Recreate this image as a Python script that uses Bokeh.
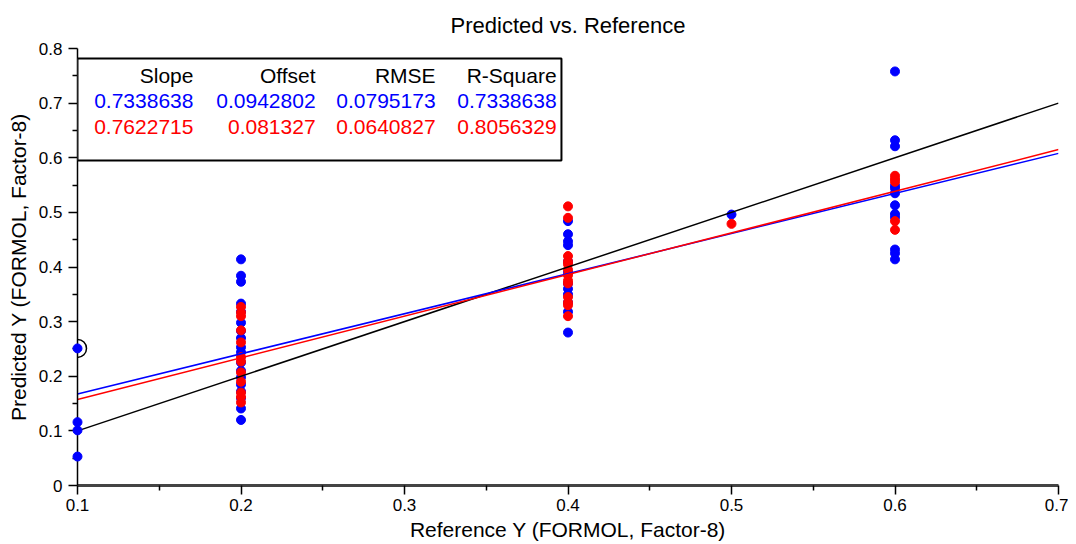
import math
from bokeh.plotting import figure
from bokeh.models import FixedTicker, CustomJSTickFormatter, BoxAnnotation, Label, Range1d
from bokeh.embed import file_html
from bokeh.resources import INLINE

# ---- data ----
ref_levels = [0.1, 0.2, 0.4, 0.5, 0.6]
blue_pred = {
    0.1: [0.251, 0.116, 0.101, 0.053],
    0.2: [0.414, 0.384, 0.373, 0.333, 0.318, 0.298, 0.283, 0.270, 0.253, 0.244,
          0.225, 0.210, 0.198, 0.185, 0.172, 0.160, 0.141, 0.120],
    0.4: [0.484, 0.460, 0.447, 0.440, 0.410, 0.390, 0.370, 0.360, 0.350, 0.335,
          0.318, 0.280],
    0.5: [0.496],
    0.6: [0.758, 0.632, 0.621, 0.549, 0.544, 0.535, 0.513, 0.497, 0.491, 0.432,
          0.425, 0.414],
}
red_pred = {
    0.1: [],
    0.2: [0.327, 0.317, 0.310, 0.284, 0.262, 0.235, 0.227, 0.207, 0.190, 0.170,
          0.162, 0.152],
    0.4: [0.511, 0.490, 0.420, 0.410, 0.405, 0.395, 0.385, 0.375, 0.370, 0.345,
          0.335, 0.330, 0.310],
    0.5: [0.479],
    0.6: [0.567, 0.561, 0.556, 0.484, 0.468],
}
stat_headers = ["Slope", "Offset", "RMSE", "R-Square"]
blue_stats = ["0.7338638", "0.0942802", "0.0795173", "0.7338638"]
red_stats = ["0.7622715", "0.081327", "0.0640827", "0.8056329"]
blue_slope, blue_offset = 0.7338638, 0.0942802
red_slope, red_offset = 0.7622715, 0.081327
marked_point = (0.1, 0.251)
title_text = "Predicted vs. Reference"

x_ticks = [0.1, 0.2, 0.3, 0.4, 0.5, 0.6, 0.7]
x_minor = [0.15, 0.25, 0.35, 0.45, 0.55, 0.65]
y_ticks = [0, 0.1, 0.2, 0.3, 0.4, 0.5, 0.6, 0.7, 0.8]
y_minor = [0.05, 0.15, 0.25, 0.35, 0.45, 0.55, 0.65, 0.75]

BLUE = "#0000FF"
RED = "#FF0000"
SANS = "Liberation Sans, Arial, sans-serif"

p = figure(frame_width=981, frame_height=437, output_backend="svg", toolbar_location=None,
           x_range=Range1d(0.1, 0.7), y_range=Range1d(0, 0.8),
           min_border_left=77, min_border_right=10, min_border_top=48, min_border_bottom=51,
           title=title_text)
p.outline_line_color = None
p.grid.visible = False
p.background_fill_color = "white"

p.title.align = "center"
p.title.offset = -25
p.title.text_font = SANS
p.title.text_font_size = "22px"
p.title.text_font_style = "normal"
p.title.text_color = "black"
p.title.standoff = 21

fmt = CustomJSTickFormatter(code="return String(Number(tick.toFixed(2)));")
p.xaxis.ticker = FixedTicker(ticks=x_ticks, minor_ticks=x_minor)
p.yaxis.ticker = FixedTicker(ticks=y_ticks, minor_ticks=y_minor)
p.xaxis.formatter = fmt
p.yaxis.formatter = fmt
p.xaxis.axis_label = "Reference Y (FORMOL, Factor-8)"
p.yaxis.axis_label = "Predicted Y (FORMOL, Factor-8)"
for ax in (p.xaxis, p.yaxis):
    ax.major_label_text_font = SANS
    ax.major_label_text_font_size = "17px"
    ax.major_label_text_color = "black"
    ax.axis_label_text_font = SANS
    ax.axis_label_text_font_size = "21px"
    ax.axis_label_text_font_style = "normal"
    ax.axis_label_text_color = "black"
    ax.major_tick_in = 0
    ax.major_tick_out = 9
    ax.minor_tick_in = 0
    ax.minor_tick_out = 5
    ax.major_tick_line_color = "black"
    ax.minor_tick_line_color = "black"
    ax.major_tick_line_width = 1.5
    ax.minor_tick_line_width = 1.5
p.xaxis.major_label_standoff = 4
p.yaxis.major_label_standoff = 6
p.xaxis.axis_label_standoff = 4
p.yaxis.axis_label_standoff = 6
p.yaxis.axis_line_color = "black"
p.yaxis.axis_line_width = 1.5
p.xaxis.axis_line_color = "#444444"
p.xaxis.axis_line_width = 3

# scatter points
bx = [lv for lv in ref_levels if lv != 0.1 for _ in blue_pred[lv]]
by = [v for lv in ref_levels if lv != 0.1 for v in blue_pred[lv]]
rx = [lv for lv in ref_levels for _ in red_pred[lv]]
ry = [v for lv in ref_levels for v in red_pred[lv]]
p.scatter(bx, by, size=9, color=BLUE)
p.scatter(rx, ry, size=9, color=RED)
p.arc(x=[marked_point[0]], y=[marked_point[1]], radius=9, radius_units="screen",
      start_angle=-math.pi / 2, end_angle=math.pi / 2, line_color="black", line_width=1.5)
p.scatter([0.1] * len(blue_pred[0.1]), blue_pred[0.1], size=9, color=BLUE, level="overlay")

# lines
x_ends = [x_ticks[0], x_ticks[-1]]
p.line(x_ends, x_ends, color="black", line_width=1.5)
p.line(x_ends, [blue_slope * x + blue_offset for x in x_ends], color=BLUE, line_width=1.5)
p.line(x_ends, [red_slope * x + red_offset for x in x_ends], color=RED, line_width=1.5)

# statistics box
p.add_layout(BoxAnnotation(left=0.1, right=0.396, top=0.7817, bottom=0.595,
                           fill_color="white", fill_alpha=1.0,
                           line_color="black", line_alpha=1.0, line_width=2))
col_x = [0.1709, 0.2456, 0.3190, 0.3930]
row_y = [0.7506, 0.7030, 0.6554]
for rowi, (texts, col) in enumerate([(stat_headers, "black"), (blue_stats, BLUE), (red_stats, RED)]):
    for cx, t in zip(col_x, texts):
        p.add_layout(Label(x=cx, y=row_y[rowi], text=t, text_align="right",
                           text_baseline="middle", text_color=col,
                           text_font=SANS, text_font_size="21px"))

open("out.html", "w").write(file_html(p, INLINE))
